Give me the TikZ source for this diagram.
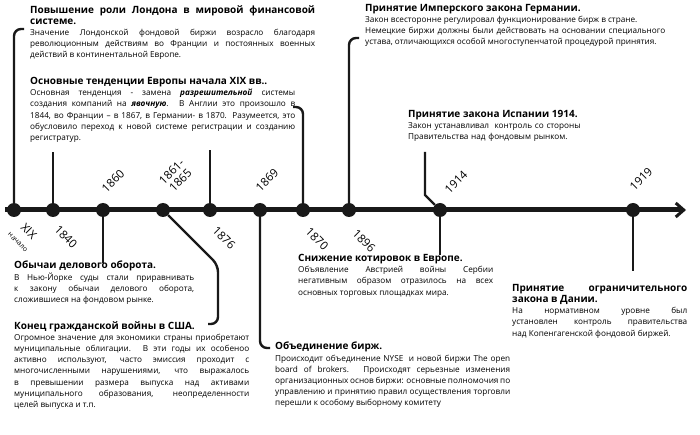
\documentclass[tikz,border=0pt]{standalone}
\usepackage{fontspec}
\setmainfont{Open Sans}
\usetikzlibrary{arrows.meta}
\begin{document}
\begin{tikzpicture}[x=1pt,y=-1pt]

			\tikzstyle{event}=[circle,fill=black!90,inner sep=0pt,minimum size=14pt]
			\tikzstyle{year}=[font=\fontsize{11.5}{11.5}\selectfont,align=center,inner sep=0pt]
			\tikzstyle{note}=[anchor=north west,inner sep=0pt,align=justify,
				font=\fontsize{8.2}{11.2}\selectfont]
			\tikzstyle{link}=[line width=2.4pt,black!90,rounded corners=7pt]

			\useasboundingbox (0,0) rectangle (700,435);

			\draw[line width=5pt,black!90,-{Straight Barb[length=8pt,width=14pt,line width=3pt]}]
				(5,210) -- (686,210);

			\node[event] (e1)  at (14,210) {};
			\node[event] (e2)  at (53,210) {};
			\node[event] (e3)  at (103,210) {};
			\node[event] (e4)  at (163,210) {};
			\node[event] (e5)  at (210,210) {};
			\node[event] (e6)  at (260,210) {};
			\node[event] (e7)  at (303,210) {};
			\node[event] (e8)  at (349,210) {};
			\node[event] (e9)  at (440,210) {};
			\node[event] (e10) at (633,210) {};

			% years above
			\node[year,rotate=45] at (113,181) {1860};
			\node[year,rotate=45] at (176,176) {1861-\\[1pt]1865};
			\node[year,rotate=45] at (267,180) {1869};
			\node[year,rotate=45] at (456,182) {1914};
			\node[year,rotate=45] at (641,179) {1919};
			% years below
			\node[year,rotate=-45] at (24,236) {XIX\\[2pt]{\fontsize{7}{7}\selectfont начало}};
			\node[year,rotate=-45] at (66,237) {1840};
			\node[year,rotate=-45] at (224,238) {1876};
			\node[year,rotate=-45] at (317,239) {1870};
			\node[year,rotate=-45] at (364,241) {1896};

			% notes
			\node[note,text width=285pt] (n1) at (30,5)
				{{\bfseries\fontsize{10}{13}\selectfont Повышение роли Лондона в мировой финансовой системе.}\\
				Значение Лондонской фондовой биржи возрасло благодаря революционным действиям во Франции и постоянных военных действий в континентальной Европе.};
			\node[note,text width=265pt] (n2) at (30,77)
				{{\bfseries\fontsize{10}{13}\selectfont Основные тенденции Европы начала XIX вв..}\\
				Основная тенденция - замена \textbf{\textit{разрешительной}} системы создания компаний на \textbf{\textit{явочную}}. В Англии это произошло в 1844, во Франции – в 1867, в Германии- в 1870. Разумеется, это обусловило переход к новой системе регистрации и созданию регистратур.};
			\node[note,text width=300pt] (n3) at (365,4)
				{{\bfseries\fontsize{10}{13}\selectfont Принятие Имперского закона Германии.}\\
				Закон всесторонне регулировал функционирование бирж в стране.\\
				Немецкие биржи должны были действовать на основании специального устава, отличающихся особой многоступенчатой процедурой принятия.};
			\node[note,text width=205pt,align=left] (n4) at (408,110)
				{{\bfseries\fontsize{10}{13}\selectfont Принятие закона Испании 1914.}\\
				Закон устанавливал\ \ контроль со стороны\\Правительства над фондовым рынком.};
			\node[note,text width=180pt] (n5) at (14,261)
				{{\bfseries\fontsize{10}{13}\selectfont Обычаи делового оборота.}\\
				В Нью-Йорке суды стали приравнивать к закону обычаи делового оборота, сложившиеся на фондовом рынке.};
			\node[note,text width=235pt] (n6) at (14,321)
				{{\bfseries\fontsize{10}{13}\selectfont Конец гражданской войны в США.}\\
				Огромное значение для экономики страны приобретают муниципальные облигации. В эти годы их особеноо активно используют, часто эмиссия проходит с многочисленными нарушениями, что выражалось в превышении размера выпуска над активами муниципального образования, неопределенности целей выпуска и т.п.};
			\node[note,text width=195pt] (n7) at (298,254)
				{{\bfseries\fontsize{10}{13}\selectfont Снижение котировок в Европе.}\\
				Объявление Австрией войны Сербии негативным образом отразилось на всех основных торговых площадках мира.};
			\node[note,text width=235pt] (n8) at (275,342)
				{{\bfseries\fontsize{10}{13}\selectfont Объединение бирж.}\\
				Происходит объединение NYSE\ \ и новой биржи The open board of brokers. Происходят серьезные изменения организационных основ биржи: основные полномочия по управлению и принятию правил осуществления торговли перешли к особому выборному комитету};
			\node[note,text width=175pt] (n9) at (512,284)
				{{\bfseries\fontsize{10}{13}\selectfont Принятие\hfill ограничительного закона в Дании.}\\
				На нормативном уровне был установлен контроль правительства над Копенгагенской фондовой биржей.};

			% connectors
			\coordinate (c1) at (24,29);
			\coordinate (c2) at (53,152);
			\coordinate (c3) at (103,263);
			\coordinate (c4) at (208,324);
			\coordinate (c5) at (210,150);
			\coordinate (c6) at (270,348);
			\coordinate (c7) at (293,107);
			\coordinate (c8) at (359,38);
			\coordinate (c9) at (425,152);
			\coordinate (c10) at (440,255);
			\coordinate (c11) at (633,271);

			\draw[link] (e1) -- (14,29) -- (c1);
			\draw[link] (e2) -- (c2);
			\draw[link] (e3) -- (c3);
			\draw[link] (e4) -- (218,265) -- (218,324) -- (c4);
			\draw[link] (e5) -- (c5);
			\draw[link] (e6) -- (260,348) -- (c6);
			\draw[link] (e7) -- (303,107) -- (c7);
			\draw[link] (e8) -- (349,38) -- (c8);
			\draw[link,rounded corners=0pt] (e9) -- (425,195) -- (c9);
			\draw[link] (e9) -- (c10);
			\draw[link] (e10) -- (c11);

		\end{tikzpicture}
\end{document}
